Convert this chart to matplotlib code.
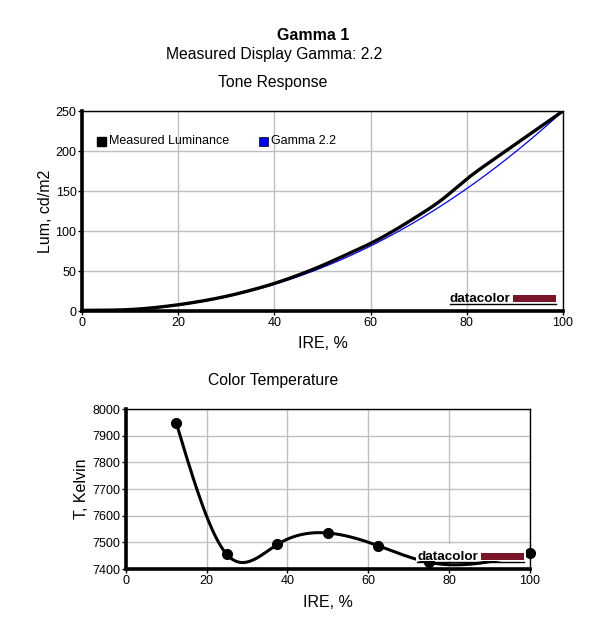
import numpy as np
import matplotlib
matplotlib.use('Agg')
import matplotlib.pyplot as plt
from matplotlib.patches import Rectangle
from matplotlib.lines import Line2D

plt.rcParams['font.family'] = ['Liberation Sans', 'DejaVu Sans']

# Tone response data
ire_lum = [0, 5, 10, 15, 20, 25, 30, 35, 40, 45, 50, 55, 60, 65, 70, 75, 80, 85, 90, 95, 100]
lum_measured = [0.8, 1.0, 1.8, 4.2, 7.8, 12.5, 18.4, 25.8, 34.5, 45.0, 57.0, 70.5,
                84.5, 101.0, 119.5, 140.0, 165.0, 187.0, 208.0, 229.0, 250.0]
gamma = 2.2
lum_max = 250

# Color temperature data
ire_ct = [12.5, 25, 37.5, 50, 62.5, 75, 100]
temp_k = [7948, 7455, 7492, 7535, 7487, 7425, 7460]

W, H = 595, 627
fig = plt.figure(figsize=(W / 100, H / 100), dpi=100)


def px(x, y):
    return x / W, 1 - y / H


def smooth(x, y, n=400):
    # natural cubic spline through the measured points (line drawing only)
    x = np.asarray(x, float)
    y = np.asarray(y, float)
    k = len(x)
    h = np.diff(x)
    A = np.zeros((k, k))
    b = np.zeros(k)
    A[0, 0] = A[-1, -1] = 1
    for i in range(1, k - 1):
        A[i, i - 1] = h[i - 1]
        A[i, i] = 2 * (h[i - 1] + h[i])
        A[i, i + 1] = h[i]
        b[i] = 6 * ((y[i + 1] - y[i]) / h[i] - (y[i] - y[i - 1]) / h[i - 1])
    M = np.linalg.solve(A, b)
    xs = np.linspace(x[0], x[-1], n)
    idx = np.clip(np.searchsorted(x, xs) - 1, 0, k - 2)
    x0, x1 = x[idx], x[idx + 1]
    hh = x1 - x0
    t0 = x1 - xs
    t1 = xs - x0
    ys = (M[idx] * t0 ** 3 + M[idx + 1] * t1 ** 3) / (6 * hh) \
        + (y[idx] / hh - M[idx] * hh / 6) * t0 + (y[idx + 1] / hh - M[idx + 1] * hh / 6) * t1
    return xs, ys


def style_axes(ax):
    ax.grid(True, color='#c0c0c0', linewidth=1)
    ax.set_axisbelow(True)
    for s in ['left', 'bottom']:
        ax.spines[s].set_linewidth(2.6)
    for s in ['top', 'right']:
        ax.spines[s].set_linewidth(1)
    ax.tick_params(labelsize=9, length=3, width=1, pad=1)


def logo(x0, y_bar_top, bar_x, bar_w):
    fig.text(*px(x0, y_bar_top + 7.5), 'datacolor', fontsize=9.7, fontweight='bold',
             ha='left', va='baseline', zorder=10)
    fig.patches.append(Rectangle(px(bar_x, y_bar_top + 7), bar_w / W, 7 / H,
                                 transform=fig.transFigure, facecolor='#7a1428',
                                 edgecolor='none', zorder=10))
    fig.lines.append(Line2D([x0 / W, (bar_x + bar_w) / W],
                            [1 - (y_bar_top + 9) / H] * 2, transform=fig.transFigure,
                            color='black', linewidth=1, zorder=10))


# Titles
fig.text(*px(313, 35), 'Gamma 1', ha='center', va='center', fontsize=11.5, fontweight='bold')
fig.text(*px(274, 55), 'Measured Display Gamma: 2.2', ha='center', va='center', fontsize=11.3)
fig.text(*px(273, 82), 'Tone Response', ha='center', va='center', fontsize=11.3)
fig.text(*px(273, 381), 'Color Temperature', ha='center', va='center', fontsize=11.3)

# Tone response
ax1 = fig.add_axes([82 / W, 1 - 311 / H, 481 / W, 200 / H])
xg = np.linspace(0, 100, 201)
ax1.plot(xg, lum_max * (xg / 100) ** gamma, color='#0000ff', linewidth=0.9, zorder=3)
xs, ys = smooth(ire_lum, lum_measured)
ax1.plot(xs, ys, color='black', linewidth=2.4, zorder=4)
ax1.set_xlim(0, 100)
ax1.set_ylim(0, 250)
ax1.set_xticks([0, 20, 40, 60, 80, 100])
ax1.set_yticks([0, 50, 100, 150, 200, 250])
style_axes(ax1)
ax1.set_xlabel('IRE, %', fontsize=11.5, labelpad=5)
ax1.set_ylabel('Lum, cd/m2', fontsize=11.5, labelpad=2)

# legend
fig.patches.append(Rectangle(px(97, 146), 9 / W, 9 / H, transform=fig.transFigure,
                             facecolor='black', edgecolor='black'))
fig.text(*px(109, 141.5), 'Measured Luminance', fontsize=9, va='center')
fig.patches.append(Rectangle(px(259, 146), 9 / W, 9 / H, transform=fig.transFigure,
                             facecolor='#0000ff', edgecolor='black', linewidth=0.5))
fig.text(*px(271, 141.5), 'Gamma 2.2', fontsize=9, va='center')

logo(450, 295, 513, 43)

# Color temperature
ax2 = fig.add_axes([125.7 / W, 1 - 569 / H, 404.3 / W, 160 / H])
xs, ys = smooth(ire_ct, temp_k)
ax2.plot(xs, ys, color='black', linewidth=2.2, zorder=4)
ax2.plot(ire_ct, temp_k, 'o', color='black', markersize=7, zorder=5, clip_on=False)
ax2.set_xlim(0, 100)
ax2.set_ylim(7400, 8000)
ax2.set_xticks([0, 20, 40, 60, 80, 100])
ax2.set_yticks([7400, 7500, 7600, 7700, 7800, 7900, 8000])
style_axes(ax2)
ax2.set_xlabel('IRE, %', fontsize=11.5, labelpad=6)
ax2.set_ylabel('T, Kelvin', fontsize=11.5, labelpad=2)

fig.patches.append(Rectangle(px(416, 561), 110 / W, 17 / H, transform=fig.transFigure,
                             facecolor='white', edgecolor='none', zorder=9))
logo(417, 553, 481, 43)

fig.savefig('out.png', dpi=100)
